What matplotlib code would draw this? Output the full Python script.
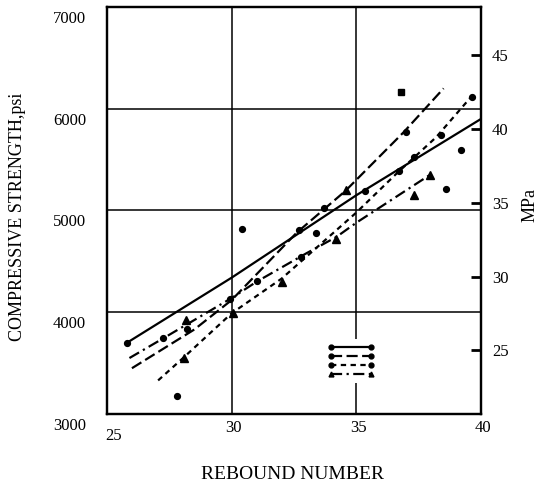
import matplotlib
matplotlib.use("Agg")
import matplotlib.pyplot as plt
from matplotlib.lines import Line2D
from matplotlib.transforms import ScaledTranslation

plt.rcParams["font.family"] = ["Liberation Serif", "DejaVu Serif"]

PSI_PER_MPA = 145.04

x_ticks = [25, 30, 35, 40]
psi_ticks = [3000, 4000, 5000, 6000, 7000]
mpa_ticks = [25, 30, 35, 40, 45]
grid_x = [30, 35]
grid_psi = [4000, 5000, 6000]

# fitted curves
solid_x = [25.8, 30.0, 35.0, 40.0]
solid_y = [3700, 4340, 5150, 5900]
long_dash_x = [26.0, 28.5, 30.0, 32.6, 34.55, 36.9, 38.5]
long_dash_y = [3450, 3830, 4120, 4780, 5190, 5770, 6200]
short_dash_x = [27.05, 28.05, 30.0, 32.0, 35.0, 36.6, 38.2, 39.65]
short_dash_y = [3330, 3550, 3990, 4330, 4980, 5360, 5720, 6130]
dash_dot_x = [25.9, 27.3, 28.2, 30.0, 31.0, 33.0, 34.2, 35.0, 37.95]
dash_dot_y = [3550, 3750, 3880, 4140, 4300, 4580, 4740, 4880, 5350]

# test points
circle_x = [25.8, 27.25, 28.2, 29.95, 30.4, 27.8, 31.0, 32.7, 33.4, 33.7,
            32.8, 35.35, 36.7, 37.0, 37.3, 38.4, 38.6, 39.2, 39.65]
circle_y = [3700, 3750, 3840, 4130, 4820, 3180, 4310, 4810, 4780, 5020,
            4540, 5190, 5390, 5770, 5530, 5740, 5210, 5590, 6120]
tri_x = [28.15, 28.1, 30.05, 32.0, 34.2, 34.6, 37.3, 37.95]
tri_y = [3920, 3550, 3990, 4300, 4720, 5200, 5150, 5350]
square_x = [36.8]
square_y = [6160]

styles = [
    dict(ls="-", marker="o"),
    dict(dashes=(5, 2), marker="o"),
    dict(dashes=(2.4, 2), marker="o"),
    dict(dashes=(5, 2, 1, 2), marker="^"),
]
curves = [(solid_x, solid_y), (long_dash_x, long_dash_y),
          (short_dash_x, short_dash_y), (dash_dot_x, dash_dot_y)]

fig = plt.figure(figsize=(5.48, 4.83), dpi=100)
ax = fig.add_axes([107 / 548, 1 - 414 / 483, 374 / 548, 407 / 483])

for v in grid_x:
    ax.axvline(v, color="k", lw=1.1, zorder=1)
for h in grid_psi:
    ax.axhline(h, color="k", lw=1.1, zorder=1)

for (cx, cy), st in zip(curves, styles):
    kw = {k: v for k, v in st.items() if k != "marker"}
    ax.plot(cx, cy, color="k", lw=1.6, zorder=2, **kw)

ax.plot(circle_x, circle_y, "o", color="k", ms=4.2, zorder=3)
ax.plot(tri_x, tri_y, "^", color="k", ms=5.5, zorder=3)
ax.plot(square_x, square_y, "s", color="k", ms=4.5, zorder=3)

ax.set_xlim(25, 40)
ax.set_ylim(3000, 7000)
ax.set_xticks(x_ticks)
ax.set_yticks(psi_ticks)
ax.tick_params(axis="x", length=0, labelsize=12, pad=4)
ax.tick_params(axis="y", length=0, labelsize=12, pad=15)
for sp in ax.spines.values():
    sp.set_linewidth(1.6)

# scanned labels sit a bit below their lines
down = ScaledTranslation(0, -0.10, fig.dpi_scale_trans)
for lab in ax.get_yticklabels():
    lab.set_transform(lab.get_transform() + down)
xlabs = ax.get_xticklabels()
xlabs[0].set_transform(xlabs[0].get_transform()
                       + ScaledTranslation(0.07, -0.08, fig.dpi_scale_trans))
for lab in xlabs[1:]:
    lab.set_transform(lab.get_transform()
                      + ScaledTranslation(0.02, 0, fig.dpi_scale_trans))

ax.set_xlabel("REBOUND NUMBER", fontsize=14, va="center")
ax.xaxis.set_label_coords(0.497, -0.148)
ax.set_ylabel("COMPRESSIVE STRENGTH,psi", fontsize=13, va="center")
ax.yaxis.set_label_coords(-0.238, 0.484)

ax2 = ax.twinx()
ax2.set_ylim(psi_ticks[0] / PSI_PER_MPA, psi_ticks[-1] / PSI_PER_MPA)
ax2.set_yticks(mpa_ticks)
ax2.tick_params(axis="y", direction="in", length=7, width=2, pad=8,
                labelsize=12)
for sp in ax2.spines.values():
    sp.set_linewidth(1.6)
ax2.set_ylabel("MPa", fontsize=13, rotation=90, va="center")
ax2.yaxis.set_label_coords(1.131, 0.5135)

handles = []
for st in styles:
    handles.append(Line2D([], [], color="k", lw=1.6, ms=3.5, **st))
ax.legend(handles, [""] * 4, loc="center", bbox_to_anchor=(0.652, 0.13),
          frameon=True, fancybox=False, edgecolor="none", facecolor="white",
          framealpha=1, fontsize=5, handlelength=6.3, handletextpad=0,
          labelspacing=0.45, borderpad=0.8, numpoints=2)

fig.savefig("out.png", dpi=100)
plt.close(fig)
